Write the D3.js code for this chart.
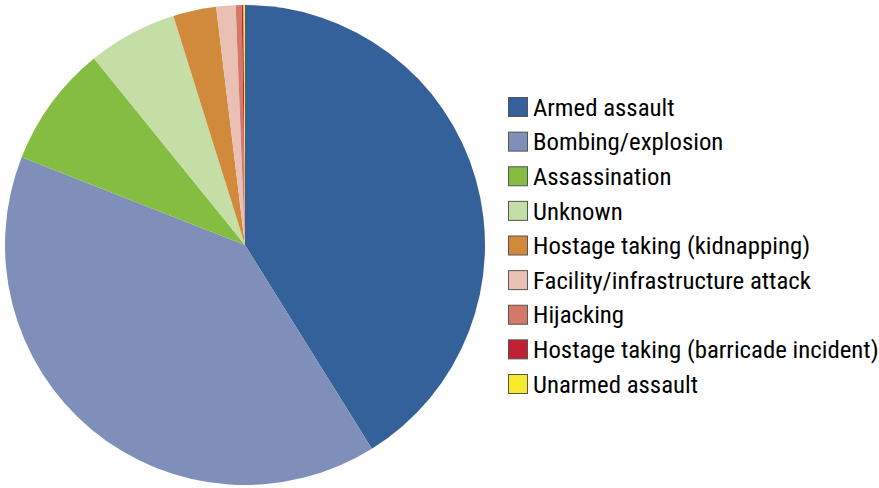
<!DOCTYPE html>
<meta charset="utf-8">
<script src="https://d3js.org/d3.v7.min.js"></script>
<style>
body { margin: 0; background: #fff; font-family: "Liberation Sans Narrow", "Arial Narrow", "Roboto Condensed", sans-serif; }
.legend text { font-size: 24.8px; fill: #000; }
.legend rect { stroke: #555; stroke-width: 1px; }
</style>
<body>
<svg id="chart" width="879" height="488"></svg>
<script>

var categories = ["Armed assault", "Bombing/explosion", "Assassination", "Unknown",
  "Hostage taking (kidnapping)", "Facility/infrastructure attack", "Hijacking",
  "Hostage taking (barricade incident)", "Unarmed assault"];
var shares = [41.1, 39.8, 8.2, 6.0, 2.9, 1.3, 0.4, 0.12, 0.1];
var colors = ["#34619a", "#7f8fba", "#84bd41", "#c5dea5", "#d18a3c", "#eac0b5", "#d5786a", "#c11f32", "#f6ea2a"];

var svg = d3.select("#chart"),
    cx = 245, cy = 245, radius = 240;

var data = categories.map(function(c, i) { return {name: c, value: shares[i], color: colors[i]}; });

var pie = d3.pie()
    .sort(null)
    .value(function(d) { return d.value; });

var arc = d3.arc()
    .innerRadius(0)
    .outerRadius(radius);

svg.append("g")
    .attr("transform", "translate(" + cx + "," + cy + ")")
  .selectAll("path")
    .data(pie(data))
  .enter().append("path")
    .attr("d", arc)
    .style("fill", function(d) { return d.data.color; });

// legend
var ly = d3.scaleLinear().domain([0, categories.length - 1]).range([107, 384]);

var legend = svg.append("g")
    .attr("class", "legend")
  .selectAll("g")
    .data(data)
  .enter().append("g")
    .attr("transform", function(d, i) { return "translate(508," + ly(i) + ")"; });

legend.append("rect")
    .attr("x", 0.5)
    .attr("y", -9.5)
    .attr("width", 19)
    .attr("height", 19)
    .style("fill", function(d) { return d.color; });

legend.append("text")
    .attr("x", 25)
    .attr("y", 0)
    .attr("dy", "0.35em")
    .text(function(d) { return d.name; });

</script>
</body>
